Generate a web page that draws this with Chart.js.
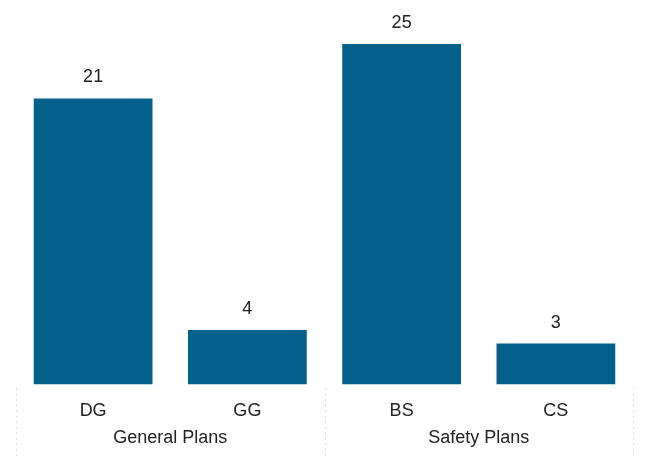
<!DOCTYPE html>
<html>
<head>
<meta charset="utf-8">
<script src="https://cdn.jsdelivr.net/npm/chart.js@4"></script>
<style>
  html, body { margin: 0; padding: 0; background: #fff; }
  #wrap { width: 645px; height: 458px; }
</style>
</head>
<body>
<div id="wrap"><canvas id="plans" width="645" height="458"></canvas></div>
<script>
const planCodes = ['DG', 'GG', 'BS', 'CS'];
const planCounts = [21, 4, 25, 3];
const planGroups = ['General Plans', 'Safety Plans'];
// category positions where each group starts / ends
const groupEdges = [-0.5, 1.5, 3.5];

const FONT = '"Liberation Sans", Arial, sans-serif';
const BAR = '#03608a';

// value labels above bars, group labels and dotted group separators under the axis
const extras = {
  id: 'extras',
  afterDatasetsDraw(chart) {
    const ctx = chart.ctx;
    const meta = chart.getDatasetMeta(0);
    const x = chart.scales.x;
    const bottom = chart.chartArea.bottom;
    ctx.save();
    ctx.font = '18px ' + FONT;
    ctx.fillStyle = '#222';
    ctx.textAlign = 'center';
    ctx.textBaseline = 'alphabetic';
    meta.data.forEach((bar, i) => {
      ctx.fillText(String(planCounts[i]), bar.x, bar.y - 16);
    });

    ctx.textBaseline = 'middle';
    planGroups.forEach((name, g) => {
      const cx = (x.getPixelForValue(groupEdges[g]) + x.getPixelForValue(groupEdges[g + 1])) / 2;
      ctx.fillText(name, cx, bottom + 54);
    });

    ctx.strokeStyle = '#cfcfcf';
    ctx.lineWidth = 1;
    ctx.setLineDash([1.5, 4]);
    groupEdges.forEach(v => {
      const px = Math.round(x.getPixelForValue(v)) + 0.5;
      ctx.beginPath();
      ctx.moveTo(px, bottom + 4);
      ctx.lineTo(px, chart.height);
      ctx.stroke();
    });
    ctx.restore();
  }
};

new Chart(document.getElementById('plans'), {
  type: 'bar',
  data: {
    labels: planCodes,
    datasets: [{ data: planCounts, backgroundColor: BAR, borderWidth: 0, categoryPercentage: 1, barPercentage: 0.77 }]
  },
  options: {
    responsive: false,
    animation: false,
    layout: { padding: { left: 16, right: 12, top: 10, bottom: 20 } },
    plugins: { legend: { display: false }, tooltip: { enabled: false } },
    scales: {
      y: { display: false, min: 0, max: 27.5 },
      x: {
        border: { display: false },
        grid: { display: false, drawTicks: false },
        ticks: { padding: 16, color: '#222', font: { family: FONT, size: 18 } }
      }
    }
  },
  plugins: [extras]
});
</script>
</body>
</html>
